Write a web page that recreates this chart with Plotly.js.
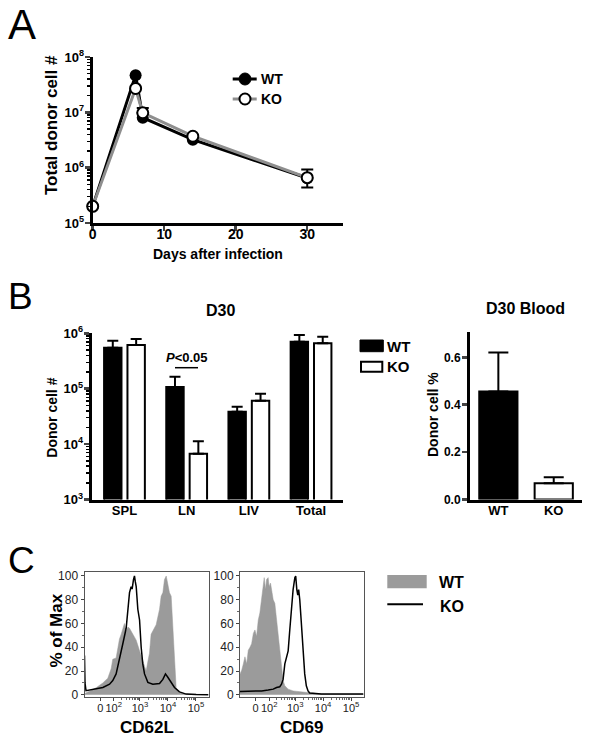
<!DOCTYPE html>
<html>
<head>
<meta charset="utf-8">
<script src="https://cdn.plot.ly/plotly-3.0.1.min.js"></script>
<style>html,body{margin:0;padding:0;background:#fff;}#chart{width:591px;height:742px;}</style>
</head>
<body>
<div id="chart"></div>
<script>
// ---------------- Panel A: time course ----------------
const daysA = [0, 6, 7, 14, 30];
const wtA = [2.0e5, 4.7e7, 8.0e6, 3.2e6, 6.5e5];
const koA = [2.0e5, 2.7e7, 9.8e6, 3.7e6, 6.6e5];
const koAerrUp = [0, 0, 2.2e6, 0, 2.7e5];
const koAerrDown = [0, 0, 0, 0, 2.2e5];

// ---------------- Panel B: D30 organs ----------------
const organs = ['SPL', 'LN', 'LIV', 'Total'];
const wtB = [5.5e5, 1.07e5, 3.83e4, 7.05e5];
const wtBsem = [1.8e5, 5.7e4, 8.7e3, 2.25e5];
const koB = [6.15e5, 6.7e3, 6.05e4, 6.6e5];
const koBsem = [1.75e5, 4.6e3, 2.05e4, 2.1e5];

// ---------------- Panel B: D30 blood ----------------
const bloodGroups = ['WT', 'KO'];
const bloodPct = [0.456, 0.069];
const bloodSem = [0.164, 0.025];

// ---------------- Panel C: flow histograms (channel, % of max) ----------------
const cd62lWtCh  = [0,40,94,148,188,215,228,255,269,282,296,309,322,336,350,363,390,417,444,470,497,511,524,537,551,578,605,618,632,645,659,672,685,699,712,726,739,766,820,1000];
const cd62lWtPct = [1,3,6,10,14,22,30,31,40,47,51,56,60,53,57,56,51,46,37,28,20,28,35,51,54,59,72,83,86,97,100,94,86,83,55,26,6,1.5,0.6,0.3];
const cd62lKoCh  = [0,4,12,40,94,148,202,228,255,282,309,336,349,363,376,384,395,403,410,417,430,444,457,470,484,511,551,605,632,653,672,699,726,766,820,900,1000];
const cd62lKoPct = [33,10,3.5,4,4.8,6.2,9,12,17.6,29,43,56,69,86,91,89,97,100,95,91,72,63,40,26,17.6,10.5,9,9.6,13,17.6,14.8,10.5,6.2,2.5,0.6,0.2,0];
const cd69WtCh  = [0,13,27,40,54,67,81,94,108,121,134,148,161,175,188,196,207,215,228,236,247,255,269,282,296,309,322,336,349,363,390,430,470,524,564,659,1000];
const cd69WtPct = [17.6,20.5,26,32,26,37.5,40,43,51.7,54.6,49,63,69,80,94,98.6,88.6,97,98.6,91,94,88.6,80,77,63,51.7,37.5,20.5,12,7.6,4.8,3.3,2.8,2.2,1.5,0.6,0.6];
const cd69KoCh  = [0,94,175,228,269,296,322,336,349,363,376,390,403,417,430,444,451,460,468,475,484,497,511,524,537,551,564,659,1000];
const cd69KoPct = [2.8,2.8,3.3,4,4.8,6.2,6.8,9,13,26,31.9,37,54.6,77,88.6,98.6,100,88.6,84,88.6,80,60,37.5,17.6,7.6,3.3,1.5,0.6,0.6];
const flowTickCh = [127, 236, 447, 673, 899];
const flowTickText = ['0', '10<sup>2</sup>', '10<sup>3</sup>', '10<sup>4</sup>', '10<sup>5</sup>'];

// ---------------- helpers ----------------
const W = 591, H = 742;
const fx = p => p / W;
const fy = p => 1 - p / H;
const FONT = 'Liberation Sans, Arial, Helvetica, sans-serif';
const GRAY = '#9b9b9b';

function logMinor(a, b) {
  const v = [];
  for (let k = a; k < b; k++) for (let m = 2; m <= 9; m++) v.push(m * Math.pow(10, k));
  return v;
}
function flowMinor() {
  const v = [];
  for (let i = 1; i < flowTickCh.length - 1; i++) {
    const p0 = flowTickCh[i], p1 = flowTickCh[i + 1];
    for (let m = 2; m <= 9; m++) v.push(p0 + Math.log10(m) * (p1 - p0));
  }
  return v;
}

const traces = [
  // A
  {x: daysA, y: wtA, type: 'scatter', mode: 'lines+markers', xaxis: 'x', yaxis: 'y', cliponaxis: false,
   line: {color: '#000', width: 3}, marker: {color: '#000', size: 12}, name: 'WT'},
  {x: daysA, y: koA, type: 'scatter', mode: 'lines+markers', xaxis: 'x', yaxis: 'y', cliponaxis: false,
   line: {color: '#8e8e8e', width: 3}, marker: {color: '#fff', size: 11, line: {color: '#000', width: 2}}, name: 'KO',
   error_y: {type: 'data', symmetric: false, array: koAerrUp, arrayminus: koAerrDown, color: '#000', thickness: 2, width: 6}},
  // B organs
  {x: organs, y: wtB, type: 'bar', xaxis: 'x2', yaxis: 'y2', offset: -0.328, width: 0.28, name: 'WT',
   marker: {color: '#000', line: {color: '#000', width: 2}},
   error_y: {type: 'data', symmetric: false, array: wtBsem, arrayminus: [0,0,0,0], color: '#000', thickness: 2, width: 5.5}},
  {x: organs, y: koB, type: 'bar', xaxis: 'x2', yaxis: 'y2', offset: 0.048, width: 0.28, name: 'KO',
   marker: {color: '#fff', line: {color: '#000', width: 2}},
   error_y: {type: 'data', symmetric: false, array: koBsem, arrayminus: [0,0,0,0], color: '#000', thickness: 2, width: 5.5}},
  // B blood
  {x: bloodGroups, y: bloodPct, type: 'bar', xaxis: 'x3', yaxis: 'y3', width: 0.69,
   marker: {color: ['#000', '#fff'], line: {color: '#000', width: 2}},
   error_y: {type: 'data', symmetric: false, array: bloodSem, arrayminus: [0,0], color: '#000', thickness: 2, width: 10}},
  // C CD62L
  {x: cd62lWtCh, y: cd62lWtPct, type: 'scatter', mode: 'lines', fill: 'tozeroy', xaxis: 'x4', yaxis: 'y4',
   fillcolor: GRAY, line: {color: GRAY, width: 0.5}, name: 'WT'},
  {x: cd62lKoCh, y: cd62lKoPct, type: 'scatter', mode: 'lines', xaxis: 'x4', yaxis: 'y4',
   line: {color: '#000', width: 1.5}, name: 'KO'},
  // C CD69
  {x: cd69WtCh, y: cd69WtPct, type: 'scatter', mode: 'lines', fill: 'tozeroy', xaxis: 'x5', yaxis: 'y5',
   fillcolor: GRAY, line: {color: GRAY, width: 0.5}, name: 'WT'},
  {x: cd69KoCh, y: cd69KoPct, type: 'scatter', mode: 'lines', xaxis: 'x5', yaxis: 'y5',
   line: {color: '#000', width: 1.5}, name: 'KO'}
];

const boldTick = s => ({family: FONT, size: s, color: '#000', weight: 700});
const regTick = s => ({family: FONT, size: s, color: '#222'});

const flowX = (dom) => ({domain: dom, range: [0, 1000], tickmode: 'array', tickvals: flowTickCh, ticktext: flowTickText,
  tickangle: 0, ticklabelstandoff: -2,
  ticks: 'outside', ticklen: 3, tickwidth: 1, tickcolor: '#444', showline: true, mirror: true, linecolor: '#555', linewidth: 1,
  showgrid: false, zeroline: false, tickfont: regTick(11),
  minor: {tickmode: 'array', tickvals: flowMinor(), ticks: 'outside', ticklen: 2, tickwidth: 0.8, tickcolor: '#444', showgrid: false}});
const flowY = (anchor) => ({domain: [fy(696.5), fy(571.7)], anchor: anchor, range: [-1.4, 103.6], tickmode: 'array', tickvals: [0,20,40,60,80,100],
  ticks: 'outside', ticklen: 3, tickwidth: 1, tickcolor: '#444', showline: true, mirror: true, linecolor: '#555', linewidth: 1,
  showgrid: false, zeroline: false, tickfont: regTick(12),
  minor: {dtick: 10, ticks: 'outside', ticklen: 2, tickwidth: 0.8, tickcolor: '#444', showgrid: false}});

const ann = (text, x, y, size, opts) => Object.assign({text: text, x: fx(x), y: fy(y), xref: 'paper', yref: 'paper',
  showarrow: false, xanchor: 'center', yanchor: 'middle', font: {family: FONT, size: size, color: '#000', weight: 700}}, opts || {});

const layout = {
  width: W, height: H, margin: {l: 0, r: 0, t: 0, b: 0}, paper_bgcolor: '#fff', plot_bgcolor: 'rgba(0,0,0,0)',
  showlegend: false, barmode: 'overlay', font: {family: FONT, color: '#000'},
  // A
  xaxis: {domain: [fx(92.7), fx(343)], anchor: 'y', range: [0, 35], tickmode: 'array', tickvals: [0, 10, 20, 30],
    ticks: 'outside', ticklen: 5, tickwidth: 2.5, ticklabelstandoff: -9, tickangle: 0,
    showline: true, linewidth: 3, linecolor: '#000', showgrid: false, zeroline: false,
    tickfont: boldTick(14)},
  yaxis: {domain: [fy(223), fy(57)], anchor: 'x', type: 'log', range: [5, 8], tickmode: 'array',
    tickvals: [1e5, 1e6, 1e7, 1e8], ticktext: ['10<sup>5</sup>', '10<sup>6</sup>', '10<sup>7</sup>', '10<sup>8</sup>'],
    ticks: 'outside', ticklen: 5, tickwidth: 2.5, ticklabelstandoff: -2,
    showline: true, linewidth: 3, linecolor: '#000', showgrid: false, zeroline: false,
    tickfont: boldTick(13),
    minor: {tickmode: 'array', tickvals: logMinor(5, 8), ticks: 'outside', ticklen: 3, tickwidth: 1.5, tickcolor: '#000', showgrid: false}},
  // B organs
  xaxis2: {domain: [fx(91.7), fx(343)], anchor: 'y2', type: 'category', range: [-0.527, 3.514], ticks: '',
    ticklabelstandoff: -3, tickangle: 0,
    showline: true, linewidth: 3, linecolor: '#000', showgrid: false, zeroline: false, tickfont: boldTick(13)},
  yaxis2: {domain: [fy(499.5), fy(333.3)], anchor: 'x2', type: 'log', range: [3, 6], tickmode: 'array',
    tickvals: [1e3, 1e4, 1e5, 1e6], ticktext: ['10<sup>3</sup>', '10<sup>4</sup>', '10<sup>5</sup>', '10<sup>6</sup>'],
    ticks: 'outside', ticklen: 5, tickwidth: 2.5, ticklabelstandoff: -2,
    showline: true, linewidth: 3, linecolor: '#000', showgrid: false, zeroline: false,
    tickfont: boldTick(13),
    minor: {tickmode: 'array', tickvals: logMinor(3, 6), ticks: 'outside', ticklen: 3, tickwidth: 1.5, tickcolor: '#000', showgrid: false}},
  // B blood
  xaxis3: {domain: [fx(470), fx(581.7)], anchor: 'y3', type: 'category', range: [-0.512, 1.505], ticks: '',
    ticklabelstandoff: -3, tickangle: 0,
    showline: true, linewidth: 3, linecolor: '#000', showgrid: false, zeroline: false, tickfont: boldTick(13)},
  yaxis3: {domain: [fy(499.5), fy(331.7)], anchor: 'x3', range: [0, 0.708], tickmode: 'array', tickvals: [0, 0.2, 0.4, 0.6],
    ticktext: ['0.0', '0.2', '0.4', '0.6'],
    ticks: 'outside', ticklen: 5, tickwidth: 2.5, ticklabelstandoff: -1,
    showline: true, linewidth: 3, linecolor: '#000', showgrid: false, zeroline: false,
    tickfont: boldTick(12)},
  // C
  xaxis4: Object.assign(flowX([fx(84.5), fx(208.5)]), {anchor: 'y4'}),
  yaxis4: flowY('x4'),
  xaxis5: Object.assign(flowX([fx(240), fx(363.5)]), {anchor: 'y5'}),
  yaxis5: flowY('x5'),
  annotations: [
    ann('A', 21.7, 24.5, 42, {font: {family: FONT, size: 42, color: '#000'}}),
    ann('B', 20.8, 296.7, 37, {font: {family: FONT, size: 37, color: '#000'}}),
    ann('C', 21.5, 560, 37, {font: {family: FONT, size: 37, color: '#000'}}),
    ann('Total donor cell #', 51, 125, 17, {textangle: -90}),
    ann('Days after infection', 217.5, 253.5, 14),
    ann('WT', 258.5, 79, 14, {xanchor: 'left'}),
    ann('KO', 258.5, 99, 14, {xanchor: 'left'}),
    ann('D30', 220, 310, 16),
    ann('Donor cell #', 51.7, 418, 14, {textangle: -90}),
    ann('<i>P</i>&lt;0.05', 186.5, 357.5, 13),
    ann('WT', 385, 346, 15, {xanchor: 'left'}),
    ann('KO', 385, 366.7, 15, {xanchor: 'left'}),
    ann('D30 Blood', 525.5, 308.7, 16),
    ann('Donor cell %', 433, 415, 14, {textangle: -90}),
    ann('% of Max', 55.5, 631, 17, {textangle: -90}),
    ann('CD62L', 146.5, 727.5, 17),
    ann('CD69', 301.75, 727.5, 17),
    ann('WT', 437, 582.7, 16, {xanchor: 'left'}),
    ann('KO', 437.5, 606.7, 16, {xanchor: 'left'})
  ],
  shapes: [
    // A legend
    {type: 'line', xref: 'paper', yref: 'paper', x0: fx(232.7), x1: fx(256.7), y0: fy(79), y1: fy(79), line: {color: '#000', width: 3}},
    {type: 'circle', xref: 'paper', yref: 'paper', x0: fx(239), x1: fx(251), y0: fy(85), y1: fy(73), fillcolor: '#000', line: {color: '#000', width: 1}},
    {type: 'line', xref: 'paper', yref: 'paper', x0: fx(232.7), x1: fx(256.7), y0: fy(99), y1: fy(99), line: {color: '#8e8e8e', width: 3}},
    {type: 'circle', xref: 'paper', yref: 'paper', x0: fx(239.5), x1: fx(250.5), y0: fy(104.5), y1: fy(93.5), fillcolor: '#fff', line: {color: '#000', width: 2}},
    // B significance line
    {type: 'line', xref: 'paper', yref: 'paper', x0: fx(175), x1: fx(198), y0: fy(367.7), y1: fy(367.7), line: {color: '#000', width: 1.5}},
    // B legend
    {type: 'rect', xref: 'paper', yref: 'paper', x0: fx(360), x1: fx(383.3), y0: fy(351.7), y1: fy(340), fillcolor: '#000', line: {color: '#000', width: 1}},
    {type: 'rect', xref: 'paper', yref: 'paper', x0: fx(361), x1: fx(382.3), y0: fy(371.7), y1: fy(361.7), fillcolor: '#fff', line: {color: '#000', width: 2}},
    // C legend
    {type: 'rect', xref: 'paper', yref: 'paper', x0: fx(387.3), x1: fx(426.7), y0: fy(588.3), y1: fy(575), fillcolor: GRAY, line: {width: 0}},
    {type: 'line', xref: 'paper', yref: 'paper', x0: fx(387.3), x1: fx(423), y0: fy(604.3), y1: fy(604.3), line: {color: '#000', width: 2}}
  ]
};

Plotly.newPlot('chart', traces, layout, {staticPlot: true, displayModeBar: false});
</script>
</body>
</html>
